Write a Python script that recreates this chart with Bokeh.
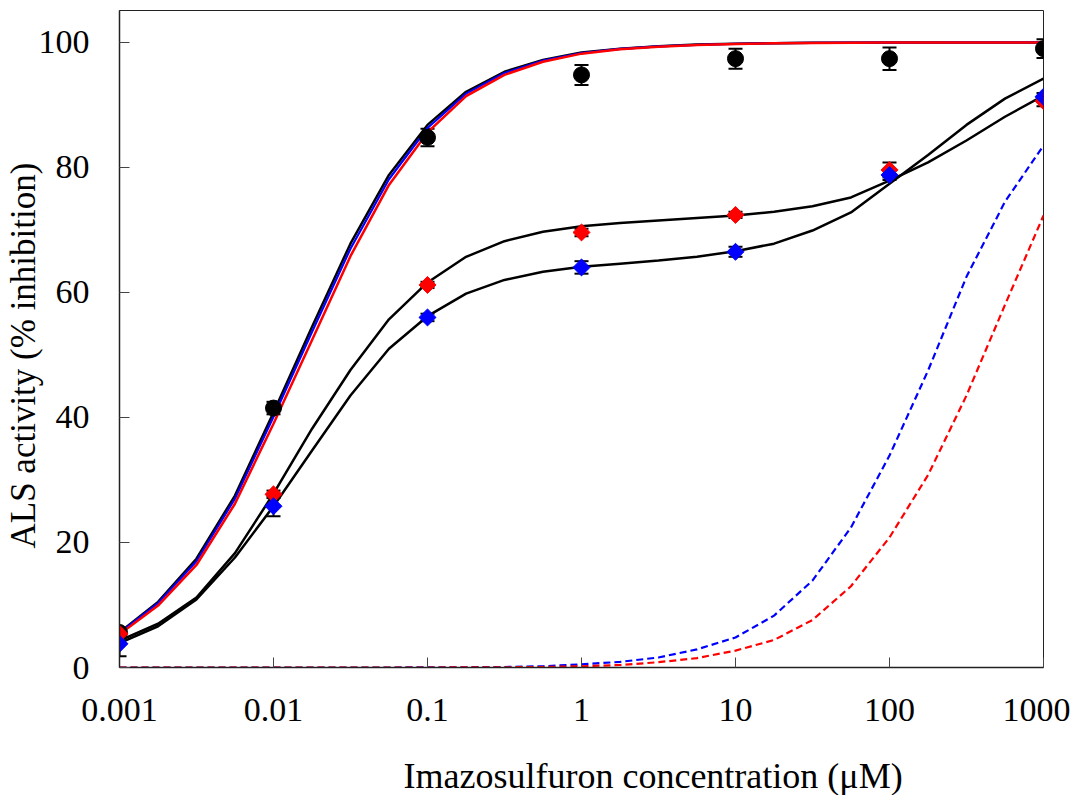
from bokeh.plotting import figure
from bokeh.models import (FixedTicker, CustomJSTickFormatter, Whisker, TeeHead,
                          ColumnDataSource, Title, Range1d)
from bokeh.embed import file_html
from bokeh.resources import INLINE

# ---------------- data ----------------
# concentrations of the fitted-curve samples (quarter-decade steps)
curve_conc = [0.001, 0.00178, 0.00316, 0.00562,
              0.01, 0.0178, 0.0316, 0.0562,
              0.1, 0.178, 0.316, 0.562,
              1, 1.78, 3.16, 5.62,
              10, 17.8, 31.6, 56.2,
              100, 178, 316, 562, 1000]

# steep fitted curves (black / blue / red overlapping)
fit_top_black = [5.6, 10.5, 17.4, 27.5, 40.8, 54.5, 67.8, 78.8, 86.8, 92.1, 95.3, 97.2,
                 98.4, 99.0, 99.4, 99.65, 99.8, 99.88, 99.93, 99.96, 99.98, 99.99, 99.99, 100.0, 100.0]
fit_top_blue = [5.5, 10.3, 17.0, 27.0, 40.1, 53.7, 67.0, 78.1, 86.3, 91.8, 95.1, 97.1,
                98.3, 98.95, 99.35, 99.6, 99.78, 99.87, 99.92, 99.95, 99.97, 99.98, 99.99, 100.0, 100.0]
fit_top_red = [5.3, 9.9, 16.4, 26.2, 39.0, 52.4, 65.8, 77.2, 85.6, 91.4, 94.8, 96.9,
               98.2, 98.9, 99.3, 99.58, 99.76, 99.86, 99.92, 99.95, 99.97, 99.98, 99.99, 100.0, 100.0]

# biphasic fitted curves (black lines) through red and blue diamonds
fit_red_pts = [4.3, 7.0, 11.2, 18.3, 27.8, 38.2, 47.6, 55.7, 61.6, 65.7, 68.2, 69.7,
               70.6, 71.1, 71.5, 71.9, 72.3, 72.9, 73.8, 75.2, 77.9, 80.8, 84.3, 88.1, 91.5]
fit_blue_pts = [3.9, 6.6, 10.9, 17.6, 25.8, 34.7, 43.5, 51.0, 56.2, 59.8, 62.0, 63.3,
                64.1, 64.6, 65.1, 65.7, 66.6, 67.8, 69.9, 72.8, 77.4, 82.0, 86.8, 91.0, 94.2]

# dashed fitted curves
dash_blue = [0, 0, 0, 0, 0, 0, 0, 0, 0.02, 0.04, 0.08, 0.2,
             0.5, 0.9, 1.6, 2.9, 4.8, 8.3, 13.9, 22.4, 33.9, 47.5, 62.5, 74.5, 83.5]
dash_red = [0, 0, 0, 0, 0, 0, 0, 0, 0, 0.01, 0.03, 0.08,
            0.2, 0.4, 0.85, 1.5, 2.7, 4.4, 7.6, 13.0, 20.8, 30.8, 43.5, 58.0, 72.3]

# measured points
point_conc = [0.001, 0.01, 0.1, 1, 10, 100, 1000]
black_circles = [5.6, 41.5, 84.8, 94.8, 97.4, 97.4, 99.0]
black_err = [0.5, 1.0, 1.4, 1.6, 1.6, 1.8, 1.5]
red_diamonds = [5.4, 27.7, 61.2, 69.6, 72.4, 79.6, 90.6]
red_err = [0.5, 0.6, 0.5, 0.6, 0.5, 1.2, 0.8]
blue_diamonds = [3.8, 25.8, 56.0, 64.0, 66.5, 78.8, 91.3]
blue_err = [2.0, 1.6, 0.6, 1.0, 0.8, 0.8, 0.6]

x_ticks = [0.001, 0.01, 0.1, 1, 10, 100, 1000]
y_ticks = [0, 20, 40, 60, 80, 100]

x_title = "Imazosulfuron concentration (\u03bcM)"
y_title = "ALS activity (% inhibition)"

FONT = "Liberation Serif"

# ---------------- figure ----------------
p = figure(x_axis_type="log",
           x_range=Range1d(0.001, 1000), y_range=Range1d(0, 105.1),
           frame_width=924, frame_height=657,
           min_border_left=119, min_border_right=27,
           min_border_top=10, min_border_bottom=0,
           output_backend="svg", toolbar_location=None)

p.xgrid.visible = False
p.ygrid.visible = False
p.outline_line_color = "#222222"
p.outline_line_width = 1
p.background_fill_color = "white"
p.border_fill_color = "white"

for ax in (p.xaxis[0], p.yaxis[0]):
    ax.axis_line_color = "#222222"
    ax.axis_line_width = 1.5
    ax.major_tick_in = 10
    ax.major_tick_out = 0
    ax.major_tick_line_color = "#444444"
    ax.major_tick_line_width = 1
    ax.minor_tick_line_color = None
    ax.major_label_text_font = FONT
    ax.major_label_text_font_size = "34px"
    ax.major_label_text_color = "black"

p.xaxis.ticker = FixedTicker(ticks=x_ticks, minor_ticks=[])
p.xaxis.formatter = CustomJSTickFormatter(code="""
    const v = Math.round(Math.log10(tick));
    if (v >= 0) { return String(Math.round(Math.pow(10, v))); }
    return "0." + "0".repeat(-v - 1) + "1";
""")
p.xaxis.major_label_standoff = 31
# blank axis label only reserves vertical room above the x title
p.xaxis.axis_label = " "
p.xaxis.axis_label_text_font_size = "16px"
p.xaxis.axis_label_standoff = 10

p.yaxis.ticker = FixedTicker(ticks=y_ticks, minor_ticks=[])
p.yaxis.major_label_standoff = 30

yt = Title(text=y_title, align="left", offset=119, vertical_align="bottom",
           text_font=FONT, text_font_size="35px", text_font_style="normal",
           text_color="black", standoff=-14)
p.add_layout(yt, "left")

xt = Title(text=x_title, align="left", offset=284,
           text_font=FONT, text_font_size="36px", text_font_style="normal",
           text_color="black", standoff=0)
p.add_layout(xt, "below")

# ---------------- curves ----------------
p.line(curve_conc, fit_top_black, line_color="black", line_width=2.5)
p.line(curve_conc, fit_top_blue, line_color="blue", line_width=2.2)
p.line(curve_conc, fit_top_red, line_color="red", line_width=2.5)

p.line(curve_conc, fit_red_pts, line_color="black", line_width=2.5)
p.line(curve_conc, fit_blue_pts, line_color="black", line_width=2.5)

p.line(curve_conc, dash_blue, line_color="blue", line_width=2.2, line_dash="7 4")
p.line(curve_conc, dash_red, line_color="red", line_width=2.2, line_dash="7 4")

# ---------------- error bars + points ----------------
def add_whisker(ys, errs):
    src = ColumnDataSource(dict(
        base=point_conc,
        upper=[y + e for y, e in zip(ys, errs)],
        lower=[y - e for y, e in zip(ys, errs)]))
    w = Whisker(source=src, base="base", upper="upper", lower="lower",
                dimension="height", line_color="black", line_width=2,
                upper_head=TeeHead(size=14, line_color="black", line_width=2),
                lower_head=TeeHead(size=14, line_color="black", line_width=2))
    p.add_layout(w)

add_whisker(black_circles, black_err)
add_whisker(red_diamonds, red_err)
add_whisker(blue_diamonds, blue_err)

p.scatter(point_conc, black_circles, marker="circle", size=16,
          fill_color="black", line_color="black")
p.scatter(point_conc, red_diamonds, marker="square", size=12, angle=0.7854,
          fill_color="red", line_color="red")
p.scatter(point_conc, blue_diamonds, marker="square", size=12, angle=0.7854,
          fill_color="blue", line_color="blue")

open("out.html", "w").write(file_html(p, INLINE))
